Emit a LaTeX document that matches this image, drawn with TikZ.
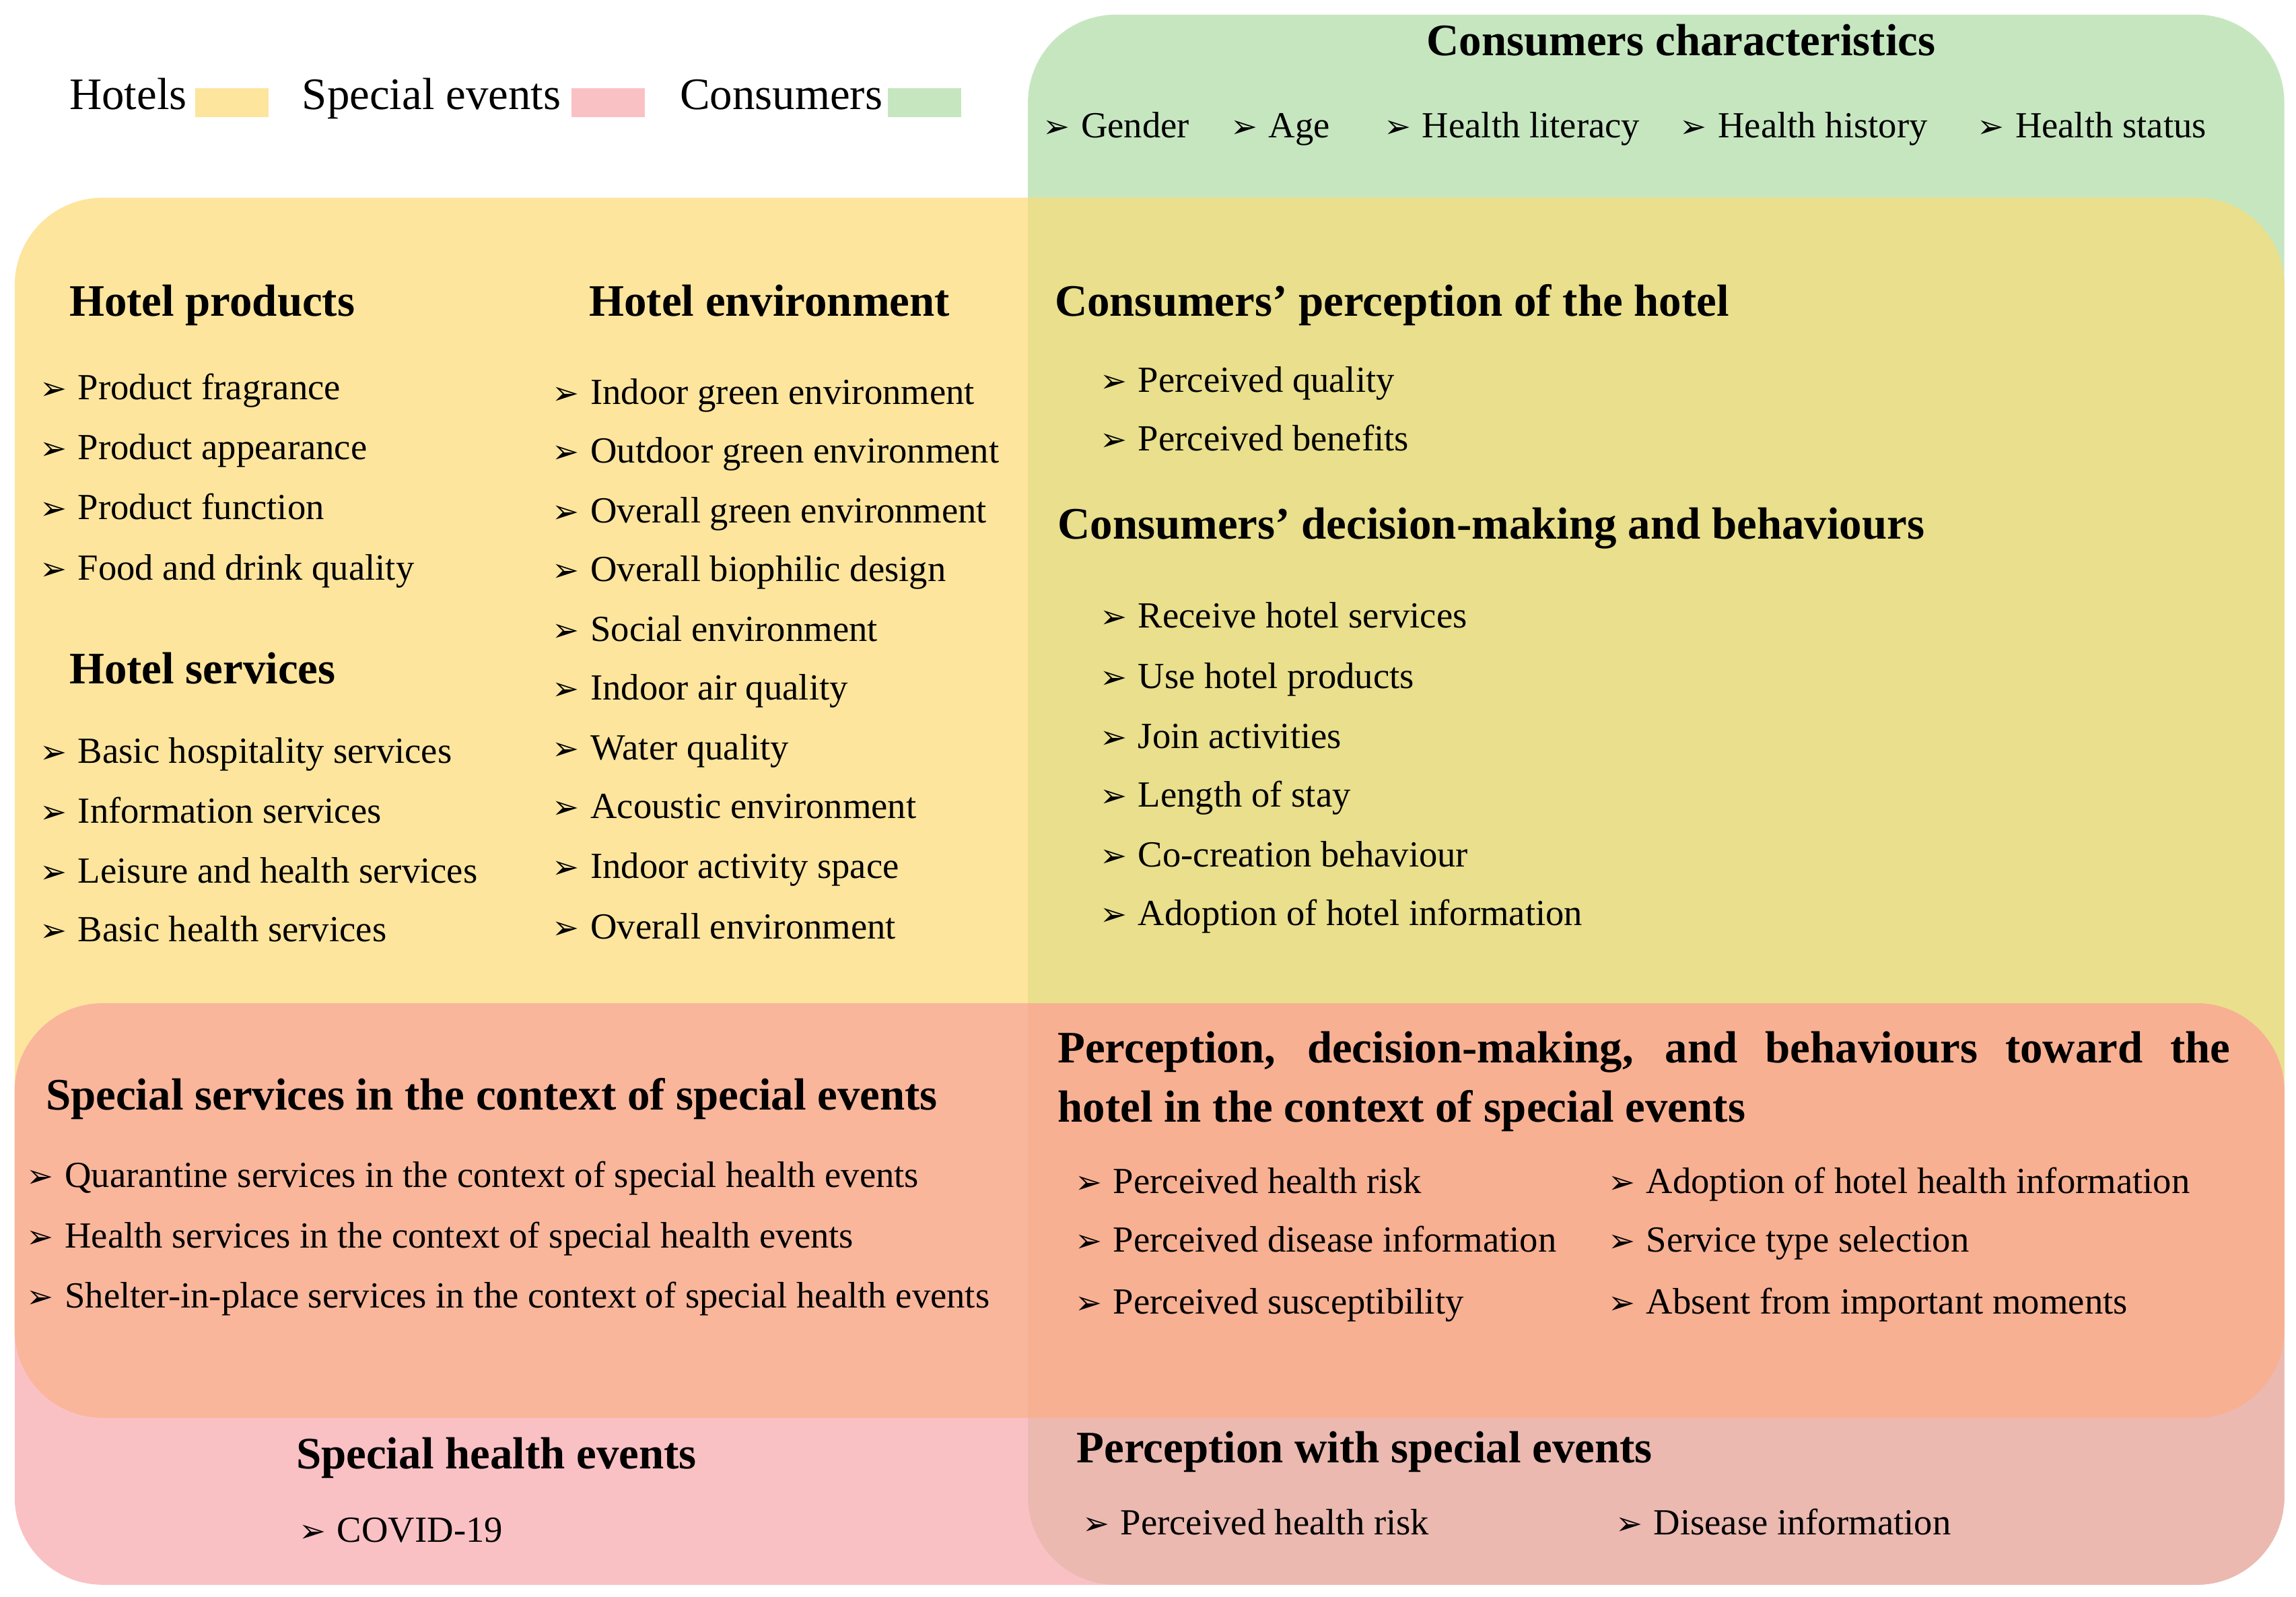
\documentclass[tikz,border=0pt]{standalone}
\usepackage{fontspec}
\setmainfont{Liberation Serif}
\newfontfamily\dejavu{DejaVu Sans}
\newcommand{\arrb}{{\dejavu\fontsize{12.5pt}{14pt}\selectfont ➢}\hspace{0.3em}}
\newcommand{\apos}{{\char"27}}
\definecolor{cY}{HTML}{FDE59D}
\definecolor{cG}{HTML}{C6E6C0}
\definecolor{cP}{HTML}{FAC1C5}
\definecolor{cYG}{HTML}{E9DF8C}
\definecolor{cYP}{HTML}{F9B69B}
\definecolor{cPG}{HTML}{EBB9B0}
\definecolor{cYPG}{HTML}{F8B092}
\tikzset{
 txt/.style={anchor=west,inner sep=0pt,text height=1.6ex,text depth=0.4ex,font=\fontsize{14.3pt}{17pt}\selectfont},
 hd/.style={anchor=west,inner sep=0pt,text height=1.6ex,text depth=0.4ex,font=\bfseries\fontsize{17.5pt}{23pt}\selectfont},
 lg/.style={anchor=west,inner sep=0pt,text height=1.6ex,text depth=0.4ex,font=\fontsize{17.5pt}{20pt}\selectfont},
 sw/.style={minimum width=1cm,minimum height=0.4cm,inner sep=0pt,anchor=west}
}
\begin{document}
\begin{tikzpicture}[x=0.02cm,y=-0.02cm]
\useasboundingbox (0,0) rectangle (1568,1090);
\def\G{(702,10) rectangle (1560,1082)}
\def\Y{(10,135) rectangle (1560,968)}
\def\P{(10,685) rectangle (1560,1082)}
\tikzset{rc/.style={rounded corners=1.2cm}}
\fill[cG,rc] \G; \fill[cY,rc] \Y; \fill[cP,rc] \P;
\begin{scope}\clip[rc] \G; \fill[cYG,rc] \Y; \fill[cPG,rc] \P; \end{scope}
\begin{scope}\clip[rc] \Y; \fill[cYP,rc] \P; \end{scope}
\begin{scope}\clip[rc] \G; \clip[rc] \Y; \fill[cYPG,rc] \P; \end{scope}
% legend
\node[lg] (l1) at (47,70) {Hotels};
\node[sw,fill=cY] (s1) at (133,70) {};
\node[lg] (l2) at (206,70) {Special events};
\node[sw,fill=cP] (s2) at (390,70) {};
\node[lg] (l3) at (464,70) {Consumers};
\node[sw,fill=cG] (s3) at (606,70) {};
% consumers characteristics
\node[hd,anchor=center] (cc) at (1148,33) {Consumers characteristics};
\node[txt] (c1) at (712,89) {\arrb Gender};
\node[txt] (c2) at (840,89) {\arrb Age};
\node[txt] (c3) at (945,89) {\arrb Health literacy};
\node[txt] (c4) at (1147,89) {\arrb Health history};
\node[txt] (c5) at (1350,89) {\arrb Health status};
% hotel products
\node[hd] (hp) at (47,211) {Hotel products};
\node[txt] (hp1) at (27,268) {\arrb Product fragrance};
\node[txt] (hp2) at (27,309) {\arrb Product appearance};
\node[txt] (hp3) at (27,350) {\arrb Product function};
\node[txt] (hp4) at (27,391) {\arrb Food and drink quality};
\node[hd] (hs) at (47,462) {Hotel services};
\node[txt] (hs1) at (27,516) {\arrb Basic hospitality services};
\node[txt] (hs2) at (27,557) {\arrb Information services};
\node[txt] (hs3) at (27,598) {\arrb Leisure and health services};
\node[txt] (hs4) at (27,638) {\arrb Basic health services};
% hotel environment
\node[hd] (he) at (402,211) {Hotel environment};
\node[txt] (he1) at (377,271) {\arrb Indoor green environment};
\node[txt] (he2) at (377,311) {\arrb Outdoor green environment};
\node[txt] (he3) at (377,352) {\arrb Overall green environment};
\node[txt] (he4) at (377,392) {\arrb Overall biophilic design};
\node[txt] (he5) at (377,433) {\arrb Social environment};
\node[txt] (he6) at (377,473) {\arrb Indoor air quality};
\node[txt] (he7) at (377,514) {\arrb Water quality};
\node[txt] (he8) at (377,554) {\arrb Acoustic environment};
\node[txt] (he9) at (377,595) {\arrb Indoor activity space};
\node[txt] (he10) at (377,636) {\arrb Overall environment};
% perception of hotel
\node[hd] (cp) at (720,211) {Consumers\apos{} perception of the hotel};
\node[txt] (cp1) at (751,263) {\arrb Perceived quality};
\node[txt] (cp2) at (751,303) {\arrb Perceived benefits};
\node[hd] (cd) at (722,363) {Consumers\apos{} decision-making and behaviours};
\node[txt] (cd1) at (751,424) {\arrb Receive hotel services};
\node[txt] (cd2) at (751,465) {\arrb Use hotel products};
\node[txt] (cd3) at (751,506) {\arrb Join activities};
\node[txt] (cd4) at (751,546) {\arrb Length of stay};
\node[txt] (cd5) at (751,587) {\arrb Co-creation behaviour};
\node[txt] (cd6) at (751,627) {\arrb Adoption of hotel information};
% special services
\node[hd] (ss) at (31,753) {Special services in the context of special events};
\node[txt] (ss1) at (18,806) {\arrb Quarantine services in the context of special health events};
\node[txt] (ss2) at (18,847) {\arrb Health services in the context of special health events};
\node[txt] (ss3) at (18,888) {\arrb Shelter-in-place services in the context of special health events};
% perception in special events
\node[hd,anchor=north west,text height=,text depth=,text width=16.02cm,align=justify] (pd) at (722,704) {\hyphenpenalty=10000 Perception, decision-making, and behaviours toward the\linebreak hotel in the context of special events};
\node[txt] (pd1) at (734,810) {\arrb Perceived health risk};
\node[txt] (pd2) at (734,850) {\arrb Perceived disease information};
\node[txt] (pd3) at (734,892) {\arrb Perceived susceptibility};
\node[txt] (pd4) at (1098,810) {\arrb Adoption of hotel health information};
\node[txt] (pd5) at (1098,850) {\arrb Service type selection};
\node[txt] (pd6) at (1098,892) {\arrb Absent from important moments};
% bottom
\node[hd] (sh) at (202,998) {Special health events};
\node[txt] (sh1) at (204,1048) {\arrb COVID-19};
\node[hd] (pw) at (735,994) {Perception with special events};
\node[txt] (pw1) at (739,1043) {\arrb Perceived health risk};
\node[txt] (pw2) at (1103,1043) {\arrb Disease information};
\end{tikzpicture}
\end{document}
